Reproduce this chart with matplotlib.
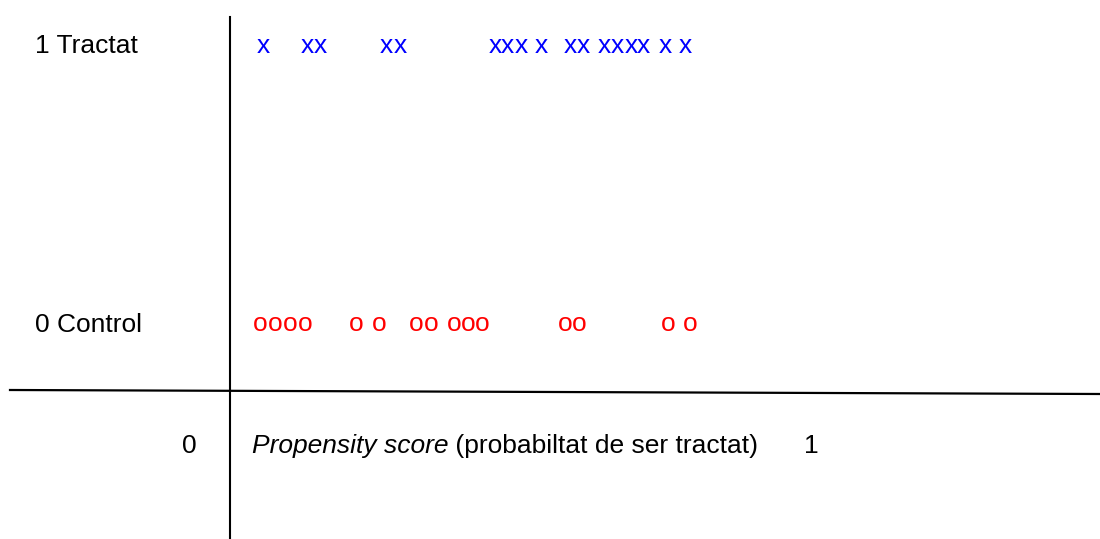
import matplotlib.pyplot as plt
from matplotlib.lines import Line2D

# Propensity scores (0..1) for each group
treated_scores = [0.058, 0.134, 0.156, 0.272, 0.295, 0.460, 0.482, 0.505, 0.541,
                  0.591, 0.613, 0.650, 0.673, 0.696, 0.718, 0.755, 0.791]
control_scores = [0.053, 0.079, 0.105, 0.130, 0.219, 0.259, 0.324, 0.349, 0.389,
                  0.413, 0.438, 0.582, 0.606, 0.761, 0.799]
group_labels = ["0 Control", "1 Tractat"]
axis_text = "(probabiltat de ser tractat)"

W, H = 1100, 539
fig = plt.figure(figsize=(W / 100, H / 100), dpi=100)
font = "Liberation Sans"
fs = 19

# frame axes in pixel coordinates
bg = fig.add_axes([0, 0, 1, 1])
bg.set_xlim(0, W)
bg.set_ylim(H, 0)
bg.axis("off")

# data axes: x = propensity score, y = group (0 control, 1 treated)
x0, x1 = 230, 806
yb0, yb1 = 331, 53
ax = fig.add_axes([x0 / W, (H - yb0) / H, (x1 - x0) / W, (yb0 - yb1) / H])
ax.set_xlim(0, 1)
ax.set_ylim(0, 1)
ax.axis("off")

for s in treated_scores:
    ax.text(s, 1, "x", color="blue", ha="center", va="baseline",
            fontsize=fs, family=font, clip_on=False)
for s in control_scores:
    ax.text(s, 0, "o", color="red", ha="center", va="baseline",
            fontsize=fs, family=font, clip_on=False)

# group labels
ax.text(35, yb1, group_labels[1], transform=bg.transData, ha="left", va="baseline",
        fontsize=fs, family=font)
ax.text(35, yb0 + 1, group_labels[0], transform=bg.transData, ha="left", va="baseline",
        fontsize=fs, family=font)

# axis lines
bg.add_line(Line2D([230, 230], [17, H], color="black", lw=1.5))
bg.add_line(Line2D([10, W], [390, 394], color="black", lw=1.6))

# x axis labels
bg.text(189, 453, "0", ha="center", va="baseline", fontsize=fs, family=font)
bg.text(811, 453, "1", ha="center", va="baseline", fontsize=fs, family=font)
t1 = bg.text(252, 453, "Propensity score", ha="left", va="baseline",
             fontsize=fs, family=font, style="italic")
fig.canvas.draw()
bb = t1.get_window_extent()
bg.annotate(" " + axis_text, xy=(1, 0), xycoords=t1, ha="left", va="bottom",
            fontsize=fs, family=font)

fig.savefig("out.png", dpi=100, facecolor="white")
